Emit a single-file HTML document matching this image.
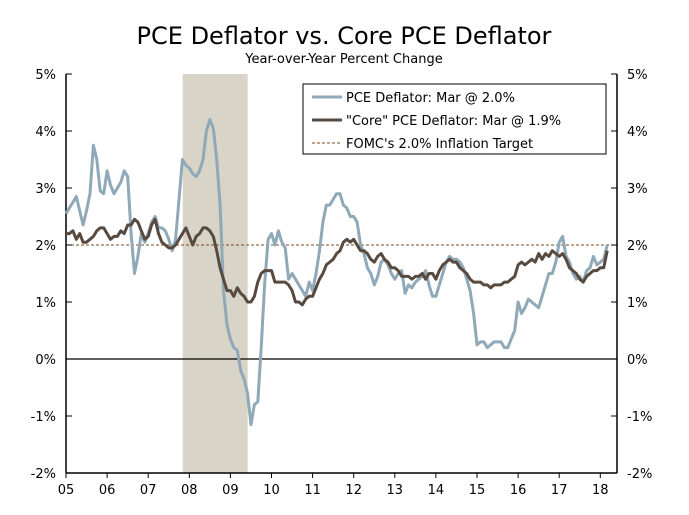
<!DOCTYPE html>
<html><head><meta charset="utf-8"><style>
body{margin:0;background:#fff;}
svg{display:block;font-family:"DejaVu Sans","Liberation Sans",sans-serif;}
</style></head><body>
<svg id="c" width="689" height="515">
<text x="344" y="44" text-anchor="middle" font-size="24" fill="#000">PCE Deflator vs. Core PCE Deflator</text>
<text x="344" y="63" text-anchor="middle" font-size="13" fill="#000">Year-over-Year Percent Change</text>
<g id="plot"></g>
</svg>
<script>
const yTicks=[5,4,3,2,1,0,-1,-2];
const xLabels=["05","06","07","08","09","10","11","12","13","14","15","16","17","18"];
const pce=[2.55,2.65,2.75,2.85,2.6,2.35,2.6,2.9,3.75,3.5,2.95,2.9,
3.3,3.05,2.9,3.0,3.1,3.3,3.2,2.2,1.5,1.8,2.2,2.05,
2.2,2.4,2.5,2.3,2.3,2.25,2.1,1.9,2.1,2.8,3.5,3.4,
3.35,3.25,3.2,3.3,3.5,4.0,4.2,4.05,3.5,2.7,1.2,0.6,
0.35,0.2,0.15,-0.2,-0.35,-0.6,-1.15,-0.8,-0.75,0.2,1.3,2.1,
2.2,2.0,2.25,2.05,1.95,1.4,1.5,1.4,1.3,1.2,1.1,1.35,
1.2,1.5,1.9,2.4,2.7,2.7,2.8,2.9,2.9,2.7,2.65,2.5,
2.5,2.4,2.0,1.85,1.6,1.5,1.3,1.45,1.7,1.75,1.65,1.5,
1.4,1.5,1.55,1.15,1.3,1.25,1.35,1.4,1.45,1.55,1.3,1.1,
1.1,1.3,1.5,1.7,1.8,1.75,1.75,1.7,1.6,1.4,1.2,0.8,
0.25,0.3,0.3,0.2,0.25,0.3,0.3,0.3,0.2,0.2,0.35,0.5,
1.0,0.8,0.9,1.05,1.0,0.95,0.9,1.1,1.3,1.5,1.5,1.7,
2.05,2.15,1.8,1.7,1.5,1.4,1.45,1.35,1.55,1.6,1.8,1.65,
1.7,1.75,2.0];
const core=[2.2,2.2,2.25,2.1,2.2,2.05,2.05,2.1,2.15,2.25,2.3,2.3,
2.2,2.1,2.15,2.15,2.25,2.2,2.35,2.35,2.45,2.4,2.25,2.1,
2.15,2.35,2.45,2.2,2.05,2.0,1.95,1.95,2.0,2.1,2.2,2.3,
2.15,2.0,2.15,2.2,2.3,2.3,2.25,2.15,1.9,1.6,1.4,1.2,
1.2,1.1,1.25,1.15,1.1,1.0,1.0,1.1,1.35,1.5,1.55,1.55,
1.55,1.35,1.35,1.35,1.35,1.3,1.2,1.0,1.0,0.95,1.05,1.1,
1.1,1.25,1.4,1.5,1.65,1.7,1.75,1.85,1.9,2.05,2.1,2.05,
2.1,2.0,1.9,1.9,1.85,1.75,1.7,1.8,1.85,1.75,1.7,1.6,
1.6,1.55,1.45,1.45,1.45,1.4,1.45,1.45,1.5,1.4,1.5,1.5,
1.4,1.55,1.65,1.7,1.75,1.7,1.7,1.6,1.55,1.5,1.4,1.35,
1.35,1.35,1.3,1.3,1.25,1.3,1.3,1.3,1.35,1.35,1.4,1.45,
1.65,1.7,1.65,1.7,1.75,1.7,1.85,1.75,1.85,1.8,1.9,1.85,
1.8,1.85,1.75,1.6,1.55,1.5,1.4,1.35,1.45,1.5,1.55,1.55,
1.6,1.6,1.9];
const recession=[2007.84,2009.42];
const target=2.0;
const L=66,R=617,T=74,B=473;
const y=v=>359-v*57;
const x=yr=>66+(yr-2005)*41.1;
const xm=i=>x(2005+i/12);
const NS="http://www.w3.org/2000/svg";
const g=document.getElementById('plot');
function mk(t,a){const e=document.createElementNS(NS,t);for(const k in a)e.setAttribute(k,a[k]);g.appendChild(e);return e;}
let e;
e=mk('rect',{x:x(recession[0]),y:T,width:x(recession[1])-x(recession[0]),height:B-T,fill:'#d8d4c8'});


e=mk('line',{x1:L,x2:R,y1:y(target),y2:y(target),stroke:'#7a4a1e','stroke-width':1,'stroke-dasharray':'3,2'});


e=mk('line',{x1:L,x2:R,y1:y(0),y2:y(0),stroke:'#000','stroke-width':1.2});


e=mk('line',{x1:L,x2:L,y1:T,y2:B,stroke:'#000','stroke-width':1.5});


e=mk('line',{x1:R,x2:R,y1:T,y2:B,stroke:'#000','stroke-width':1.5});


e=mk('line',{x1:L,x2:R,y1:B,y2:B,stroke:'#000','stroke-width':1.5});


yTicks.forEach(v=>{
 mk('line',{x1:L,x2:L+6,y1:y(v),y2:y(v),stroke:'#000'});
 mk('line',{x1:R-6,x2:R,y1:y(v),y2:y(v),stroke:'#000'});
 e=mk('text',{x:L-10,y:y(v)+5,'text-anchor':'end','font-size':13});e.textContent=v+'%';
 
 
 e=mk('text',{x:R+10,y:y(v)+5,'text-anchor':'start','font-size':13});e.textContent=v+'%';
 
 
});
xLabels.forEach((s,i)=>{
 const xx=x(2005+i);
 mk('line',{x1:xx,x2:xx,y1:B,y2:B+5,stroke:'#000'});
 e=mk('text',{x:xx,y:B+21,'text-anchor':'middle','font-size':13});e.textContent=s;
 
 
});
function line(arr,col){return mk('path',{d:arr.map((v,i)=>(i?'L':'M')+xm(i).toFixed(1)+','+y(v).toFixed(1)).join(''),fill:'none',stroke:col,'stroke-width':3,'stroke-linejoin':'round'});}
e=line(pce,'#8fa9b8');


e=line(core,'#584a3e');


e=mk('rect',{x:303,y:84,width:303,height:70,fill:'#fff',stroke:'#000','stroke-width':1});


const leg=[['PCE Deflator: Mar @ 2.0%','#8fa9b8',3,null],['"Core" PCE Deflator: Mar @ 1.9%','#584a3e',3,null],["FOMC's 2.0% Inflation Target",'#7a4a1e',1,'3,2']];
leg.forEach((l,i)=>{
 const yy=97+i*23;
 const a={x1:312,x2:342,y1:yy,y2:yy,stroke:l[1],'stroke-width':l[2]};
 if(l[3])a['stroke-dasharray']=l[3];
 mk('line',a);
 e=mk('text',{x:346,y:yy+5,'font-size':13});e.textContent=l[0];
 
 
});
</script>
</body></html>
